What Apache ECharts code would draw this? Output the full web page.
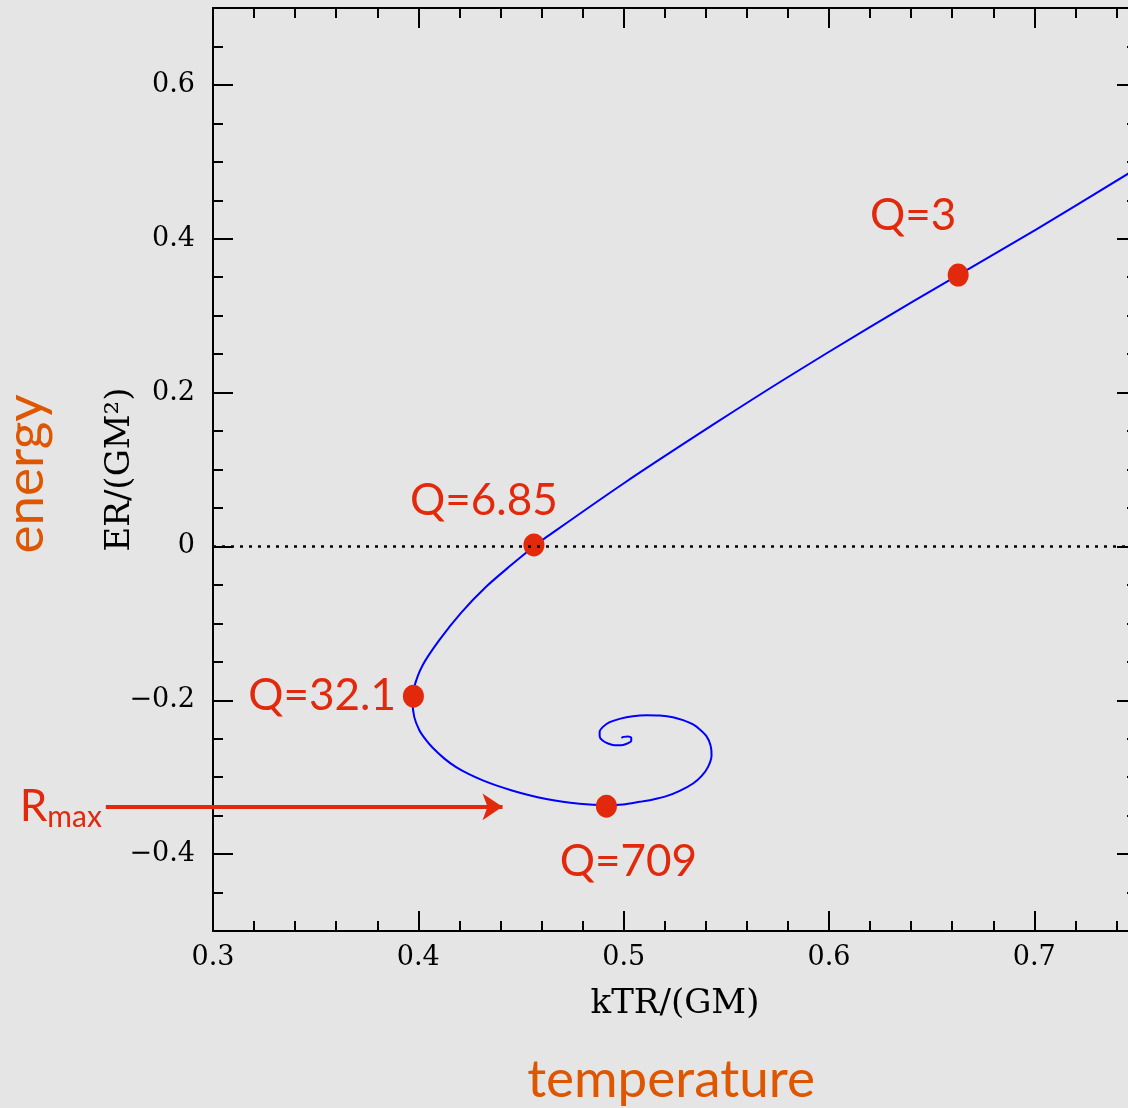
<!DOCTYPE html>
<html>
<head>
<meta charset="utf-8">
<script src="https://cdn.jsdelivr.net/npm/echarts@6/dist/echarts.min.js"></script>
<style>
  html, body { margin: 0; padding: 0; background: #e5e5e5; }
  #chart { width: 1128px; height: 1108px; }
</style>
</head>
<body>
<div id="chart"></div>
<script>
// Equilibrium sequence of an isothermal sphere: kTR/(GM) vs ER/(GM^2)
const curveT = [0.7459, 0.7008, 0.6629, 0.6195, 0.5779, 0.5439, 0.5003, 0.4615,
  0.4561, 0.4452, 0.4330, 0.4208, 0.4102, 0.4021, 0.3980, 0.3972, 0.3980, 0.4005,
  0.4038, 0.4070, 0.4127, 0.4184, 0.4249, 0.4314, 0.4379, 0.4460, 0.4541, 0.4623,
  0.4704, 0.4785, 0.4850, 0.4916, 0.4997, 0.5078, 0.5143, 0.5208, 0.5273, 0.5338,
  0.5379, 0.5411, 0.5428, 0.5423, 0.5403, 0.5371, 0.5338, 0.5289, 0.5240, 0.5176,
  0.5111, 0.5045, 0.4980, 0.4932, 0.4899, 0.4883, 0.4883, 0.4896, 0.4924, 0.4956,
  0.4989, 0.5018, 0.5037, 0.5037, 0.5021, 0.5000, 0.4989];
const curveE = [0.4850, 0.4120, 0.3528, 0.2845, 0.2167, 0.1589, 0.0825, 0.0104,
  -0.0004, -0.0243, -0.0525, -0.0863, -0.1218, -0.1544, -0.1826, -0.2012, -0.2216, -0.2389,
  -0.2519, -0.2618, -0.2759, -0.2870, -0.2965, -0.3042, -0.3107, -0.3176, -0.3235, -0.3283,
  -0.3320, -0.3345, -0.3358, -0.3364, -0.3355, -0.3321, -0.3290, -0.3247, -0.3178, -0.3082,
  -0.2987, -0.2866, -0.2714, -0.2584, -0.2467, -0.2380, -0.2315, -0.2259, -0.2220, -0.2198,
  -0.2194, -0.2207, -0.2242, -0.2285, -0.2346, -0.2411, -0.2467, -0.2519, -0.2562, -0.2584,
  -0.2584, -0.2562, -0.2528, -0.2489, -0.2471, -0.2476, -0.2489];

// Marked models along the sequence (centre-to-edge density contrast Q)
const markNames = ['Q=3', 'Q=6.85', 'Q=32.1', 'Q=709'];
const markT = [0.6629, 0.4563, 0.3976, 0.4916];
const markE = [0.3528, 0.002, -0.1947, -0.3377];

// R_max pointer
const rmaxFrom = [0.2478, -0.3386];
const rmaxTo = [0.4410, -0.3386];

const xTicks = [0.3, 0.4, 0.5, 0.6, 0.7];
const yTicks = [-0.4, -0.2, 0, 0.2, 0.4, 0.6];

const RED = '#e2290c';
const ORANGE = '#df5600';
const AX = '#000';
const SERIF = 'DejaVu Serif';
const SANS = 'Lato';

function fmt(v) {
  return String(Math.round(v * 10) / 10).replace('-', '\u2212');
}

const gridBox = { left: 213, top: 8, width: 924, height: 923, outerBoundsMode: 'none', containLabel: false };

function majorX(pos, withLabels) {
  return {
    type: 'value', gridIndex: 0, position: pos, min: 0.3, max: 0.75, interval: 0.1,
    axisLine: { show: true, onZero: false, lineStyle: { color: AX, width: 2 } },
    axisTick: { show: true, inside: true, length: 20, customValues: xTicks, lineStyle: { color: AX, width: 2 } },
    axisLabel: withLabels ? { show: true, customValues: xTicks, formatter: fmt, fontFamily: SERIF, fontSize: 27, color: '#000', margin: 13 } : { show: false },
    splitLine: { show: false },
    name: withLabels ? 'kTR/(GM)' : '',
    nameLocation: 'middle', nameGap: 56, nameMoveOverlap: false,
    nameTextStyle: { fontFamily: SERIF, fontSize: 34, color: '#000' }
  };
}
function minorX(pos) {
  return {
    type: 'value', gridIndex: 1, position: pos, min: 0.3, max: 0.75, interval: 0.02,
    axisLine: { show: false, onZero: false },
    axisTick: { show: true, inside: true, length: 10, lineStyle: { color: AX, width: 2 } },
    axisLabel: { show: false }, splitLine: { show: false }
  };
}
function majorY(pos, withLabels) {
  return {
    type: 'value', gridIndex: 0, position: pos, min: -0.5, max: 0.7, interval: 0.1,
    axisLine: { show: true, onZero: false, lineStyle: { color: AX, width: 2 } },
    axisTick: { show: true, inside: true, length: 20, customValues: yTicks, lineStyle: { color: AX, width: 2 } },
    axisLabel: withLabels ? { show: true, customValues: yTicks, formatter: fmt, fontFamily: SERIF, fontSize: 27, color: '#000', margin: 18 } : { show: false },
    splitLine: { show: false },
    name: withLabels ? 'ER/(GM\u00b2)' : '',
    nameLocation: 'middle', nameGap: 76, nameRotate: 90, nameMoveOverlap: false,
    nameTextStyle: { fontFamily: SERIF, fontSize: 34, color: '#000' }
  };
}
function minorY(pos) {
  return {
    type: 'value', gridIndex: 1, position: pos, min: -0.5, max: 0.7, interval: 0.05,
    axisLine: { show: false, onZero: false },
    axisTick: { show: true, inside: true, length: 10, lineStyle: { color: AX, width: 2 } },
    axisLabel: { show: false }, splitLine: { show: false }
  };
}

// Label placement for each marked model
const markLabelPlace = [
  { position: 'inside', offset: [-45, -59] },
  { position: 'inside', offset: [-50, -44] },
  { position: 'left', distance: 7 },
  { position: 'inside', offset: [22, 56] }
];

const markData = markNames.map((name, i) => ({
  name: name,
  value: [markT[i], markE[i]],
  label: Object.assign({ show: true, formatter: name }, markLabelPlace[i])
}));

const option = {
  backgroundColor: '#e5e5e5',
  animation: false,
  grid: [Object.assign({}, gridBox), Object.assign({}, gridBox)],
  xAxis: [majorX('bottom', true), majorX('top', false), minorX('bottom'), minorX('top')],
  yAxis: [majorY('left', true), majorY('right', false), minorY('left'), minorY('right')],
  series: [
    {
      type: 'line', xAxisIndex: 0, yAxisIndex: 0,
      data: curveT.map((t, i) => [t, curveE[i]]),
      smooth: 0.3, showSymbol: false, symbol: 'none',
      lineStyle: { color: '#0000ff', width: 2 },
      z: 2,
      markLine: {
        silent: true, symbol: 'none',
        lineStyle: { color: '#000', width: 2.5, type: [3, 6] },
        label: { show: false },
        data: [{ yAxis: 0 }]
      }
    },
    {
      type: 'lines', coordinateSystem: 'cartesian2d', xAxisIndex: 0, yAxisIndex: 0,
      clip: false, silent: true,
      symbol: ['none', 'arrow'],
      symbolSize: 20,
      lineStyle: { color: RED, width: 4, opacity: 1, curveness: 0 },
      label: {
        show: true, position: 'start', distance: 4,
        formatter: '{r|R}{s|max}',
        rich: {
          r: { fontFamily: SANS, fontSize: 44, color: RED, verticalAlign: 'bottom', height: 44 },
          s: { fontFamily: SANS, fontSize: 30, color: RED, verticalAlign: 'bottom', height: 24 }
        }
      },
      data: [{ coords: [rmaxFrom, rmaxTo] }],
      z: 4
    },
    {
      type: 'scatter', xAxisIndex: 0, yAxisIndex: 0,
      symbol: 'path://M0,1A1,1,0,1,0,2,1A1,1,0,1,0,0,1Z',
      symbolSize: [21, 23],
      itemStyle: { color: RED, opacity: 1 },
      label: { fontFamily: SANS, fontSize: 44, color: RED },
      data: markData,
      z: 3
    }
  ],
  graphic: [
    {
      type: 'text', x: 26, y: 474, rotation: Math.PI / 2,
      style: { text: 'energy', font: '53px Lato', fill: ORANGE, align: 'center', verticalAlign: 'middle' }
    },
    {
      type: 'text', x: 671, y: 1080,
      style: { text: 'temperature', font: '53px Lato', fill: ORANGE, align: 'center', verticalAlign: 'middle' }
    }
  ]
};

const chart = echarts.init(document.getElementById('chart'), null, { renderer: 'canvas' });
chart.setOption(option);
</script>
</body>
</html>
